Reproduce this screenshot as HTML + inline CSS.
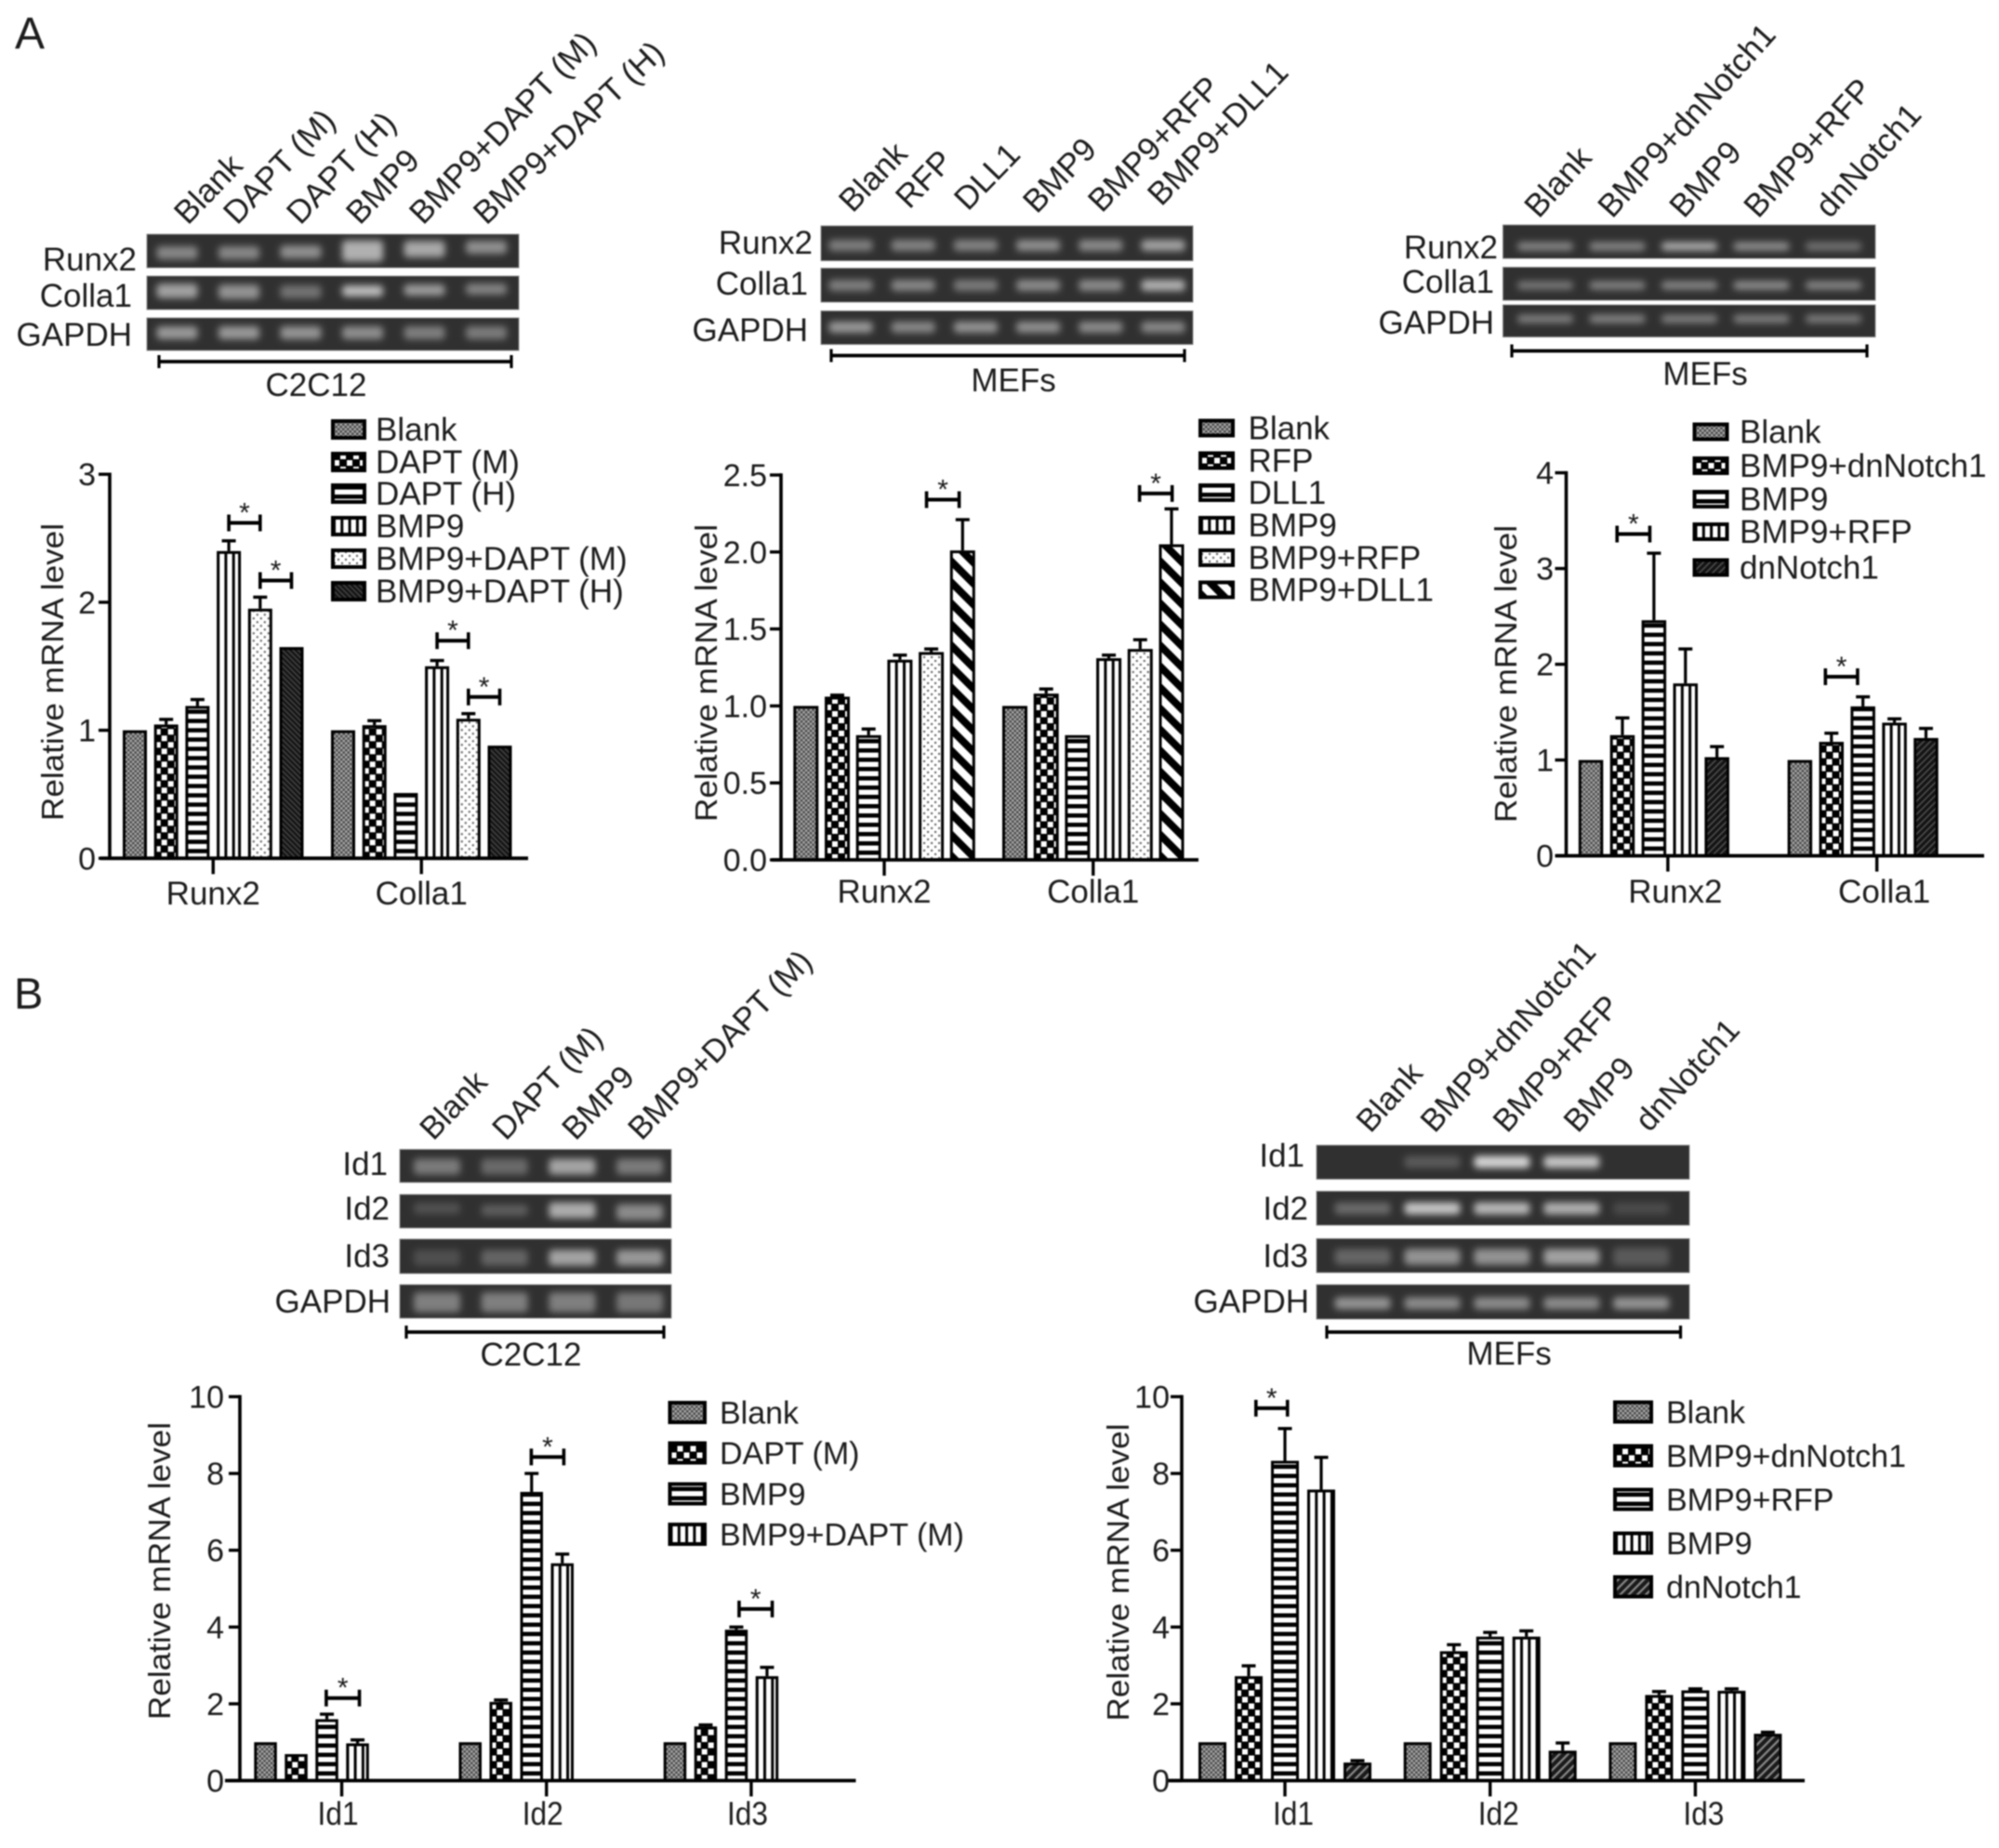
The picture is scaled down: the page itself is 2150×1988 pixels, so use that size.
<!DOCTYPE html>
<html lang="en">
<head>
<meta charset="utf-8">
<title>BMP9 and Notch signalling RT-PCR and qPCR figure</title>
<style>
html,body{margin:0;padding:0;background:#fff;width:2150px;height:1988px;overflow:hidden}
#figure{display:block;filter:blur(0.7px)}
text{font-family:"Liberation Sans",sans-serif;fill:#1c1c1c}
</style>
</head>
<body>
<svg id="figure" xmlns="http://www.w3.org/2000/svg" width="2150" height="1988" viewBox="0 0 2150 1988">
<defs id="defs">
  <filter id="gelBlur" x="-40%" y="-150%" width="180%" height="400%"><feGaussianBlur stdDeviation="3.6"/></filter>
  <pattern id="p-blank" patternUnits="userSpaceOnUse" width="5" height="5">
    <rect width="5" height="5" fill="#4a4a4a"/><rect width="2.5" height="2.5" fill="#a8a8a8"/><rect x="2.5" y="2.5" width="2.5" height="2.5" fill="#a8a8a8"/>
  </pattern>
  <pattern id="p-check" patternUnits="userSpaceOnUse" width="14" height="14">
    <rect width="14" height="14" fill="#000"/><rect x="1" y="1" width="6" height="6" fill="#fff"/><rect x="8" y="8" width="6" height="6" fill="#fff"/>
  </pattern>
  <pattern id="p-h" patternUnits="userSpaceOnUse" width="10" height="10">
    <rect width="10" height="10" fill="#fff"/><rect width="10" height="4.6" fill="#000"/>
  </pattern>
  <pattern id="p-v" patternUnits="userSpaceOnUse" width="8.3" height="10">
    <rect width="8.3" height="10" fill="#fff"/><rect width="3" height="10" fill="#000"/>
  </pattern>
  <pattern id="p-dots" patternUnits="userSpaceOnUse" width="8" height="8">
    <rect width="8" height="8" fill="#fff"/><circle cx="2" cy="2" r="1.2" fill="#666"/><circle cx="6" cy="6" r="1.2" fill="#666"/>
  </pattern>
  <pattern id="p-dark-back" patternUnits="userSpaceOnUse" width="4" height="4" data-rot="-45">
    <rect width="4" height="4" fill="#141414"/><rect width="1.3" height="4" fill="#4a4a4a"/>
  </pattern>
  <pattern id="p-dark-fwd" patternUnits="userSpaceOnUse" width="5" height="5" data-rot="45">
    <rect width="5" height="5" fill="#141414"/><rect width="1.4" height="5" fill="#555"/>
  </pattern>
  <pattern id="p-wide-back" patternUnits="userSpaceOnUse" width="16" height="16" data-rot="-45">
    <rect width="16" height="16" fill="#fff"/><rect width="8" height="16" fill="#000"/>
  </pattern>
  <pattern id="p-grey-fwd" patternUnits="userSpaceOnUse" width="6.5" height="6.5" data-rot="45">
    <rect width="6.5" height="6.5" fill="#1a1a1a"/><rect width="2.2" height="6.5" fill="#8a8a8a"/>
  </pattern>
</defs>
<g id="root"></g>
</svg>
<script>
// ---------- chart data ----------
const a1Categories = ['Runx2', 'Colla1'];
const a1Series = ['Blank', 'DAPT (M)', 'DAPT (H)', 'BMP9', 'BMP9+DAPT (M)', 'BMP9+DAPT (H)'];
const a1Values = [[1, 1.045, 1.19, 2.4, 1.95, 1.65], [1, 1.04, 0.51, 1.5, 1.09, 0.88]];
const a1Errors = [[null, 1.085, 1.24, 2.48, 2.04, null], [null, 1.075, null, 1.545, 1.13, null]];
const a1Ticks = ['0', '1', '2', '3'];
const a1TickValues = [0, 1, 2, 3];
const a1Sig = [[0, 3, 4, 2.62], [0, 4, 5, 2.17], [1, 3, 4, 1.70], [1, 4, 5, 1.26]];

const a2Categories = ['Runx2', 'Colla1'];
const a2Series = ['Blank', 'RFP', 'DLL1', 'BMP9', 'BMP9+RFP', 'BMP9+DLL1'];
const a2Values = [[1, 1.06, 0.81, 1.3, 1.35, 2.01], [1, 1.08, 0.81, 1.31, 1.37, 2.05]];
const a2Errors = [[null, 1.07, 0.85, 1.33, 1.37, 2.21], [null, 1.11, null, 1.33, 1.43, 2.28]];
const a2Ticks = ['0.0', '0.5', '1.0', '1.5', '2.0', '2.5'];
const a2TickValues = [0, 0.5, 1, 1.5, 2, 2.5];
const a2Sig = [[0, 3.85, 4.89, 2.34], [1, 3.98, 5.02, 2.38]];

const a3Categories = ['Runx2', 'Colla1'];
const a3Series = ['Blank', 'BMP9+dnNotch1', 'BMP9', 'BMP9+RFP', 'dnNotch1'];
const a3Values = [[1, 1.26, 2.46, 1.8, 1.03], [1, 1.19, 1.56, 1.39, 1.23]];
const a3Errors = [[null, 1.44, 3.16, 2.16, 1.14], [null, 1.28, 1.66, 1.43, 1.33]];
const a3Ticks = ['0', '1', '2', '3', '4'];
const a3TickValues = [0, 1, 2, 3, 4];
const a3Sig = [[0, 0.83, 1.87, 3.36], [1, 0.81, 1.83, 1.87]];

const b1Categories = ['Id1', 'Id2', 'Id3'];
const b1Series = ['Blank', 'DAPT (M)', 'BMP9', 'BMP9+DAPT (M)'];
const b1Values = [[1, 0.69, 1.6, 0.97], [1, 2.05, 7.52, 5.66], [1, 1.41, 3.93, 2.72]];
const b1Errors = [[null, null, 1.73, 1.06], [null, 2.1, 8.0, 5.9], [null, 1.45, 4.0, 2.95]];
const b1Ticks = ['0', '2', '4', '6', '8', '10'];
const b1TickValues = [0, 2, 4, 6, 8, 10];
const b1Sig = [[0, 1.98, 3.06, 2.15], [1, 1.99, 3.05, 8.43], [2, 2.09, 3.17, 4.47]];

const b2Categories = ['Id1', 'Id2', 'Id3'];
const b2Series = ['Blank', 'BMP9+dnNotch1', 'BMP9+RFP', 'BMP9', 'dnNotch1'];
const b2Values = [[1, 2.72, 8.33, 7.58, 0.47], [1, 3.37, 3.75, 3.75, 0.78], [1, 2.23, 2.35, 2.34, 1.22]];
const b2Errors = [[null, 2.99, 9.17, 8.42, 0.52], [null, 3.54, 3.86, 3.9, 0.98], [null, 2.32, 2.39, 2.39, 1.26]];
const b2Ticks = ['0', '2', '4', '6', '8', '10'];
const b2TickValues = [0, 2, 4, 6, 8, 10];
const b2Sig = [[0, 1.2, 2.07, 9.7]];

// ---------- helpers ----------
const NS = 'http://www.w3.org/2000/svg';
const root = document.getElementById('root');
const defs = document.getElementById('defs');
let patternCount = 0;

function mk(tag, parent, attrs, name) {
  const el = document.createElementNS(NS, tag);
  for (const k in attrs) el.setAttribute(k, attrs[k]);
  
  
  parent.appendChild(el);
  return el;
}
function txt(parent, str, x, y, o) {
  o = o || {};
  const a = {
    transform: 'translate(' + x + ',' + y + ')' + (o.rot ? ' rotate(' + o.rot + ')' : ''),
    'font-size': o.size || 35,
    'text-anchor': o.anchor || 'start'
  };
  if (o.len) { a.textLength = o.len; a.lengthAdjust = 'spacingAndGlyphs'; }
  const t = mk('text', parent, a, o.name || 'label');
  t.textContent = str;
  return t;
}
function hatch(base, x, y) {
  const src = document.getElementById(base);
  const p = src.cloneNode(true);
  const id = base + '-' + (patternCount++);
  p.setAttribute('id', id);
  const rot = src.getAttribute('data-rot');
  p.setAttribute('patternTransform', 'translate(' + x + ',' + y + ')' + (rot ? ' rotate(' + rot + ')' : ''));
  defs.appendChild(p);
  return 'url(#' + id + ')';
}
function slug(s) { return s.toLowerCase().replace(/[^a-z0-9]+/g, '-').replace(/^-|-$/g, ''); }

// ---------- bar chart ----------
function barChart(c, categories, series, values, errors, ticks, tickValues, sig) {
  const g = mk('g', root, {}, c.name);
  const yScale = v => c.y0 - v * c.unit;
  const xGroup = i => c.x0 + i * c.groupStep;
  const xBar = (i, s) => xGroup(i) + s * c.step;

  // bars
  values.forEach((vals, i) => {
    vals.forEach((v, s) => {
      const x = xBar(i, s), top = yScale(v);
      const bar = mk('rect', g, {
        x: x + 1.5, y: top + 1.5, width: c.barW - 3, height: c.y0 - top - 1.5,
        fill: hatch(c.fills[s], x, c.y0), stroke: '#000', 'stroke-width': 3
      }, 'bar-' + slug(categories[i]) + '-' + slug(series[s]));
      const e = errors[i][s];
      if (e !== null) {
        const cx = x + c.barW / 2, ey = yScale(e);
        mk('line', g, { x1: cx, x2: cx, y1: top, y2: ey, stroke: '#000', 'stroke-width': 3.2 }, 'error-bar-' + slug(categories[i]) + '-' + slug(series[s]));
        mk('line', g, { x1: cx - 7.5, x2: cx + 7.5, y1: ey, y2: ey, stroke: '#000', 'stroke-width': 3.4 }, 'error-cap-' + slug(categories[i]) + '-' + slug(series[s]));
      }
    });
  });

  // axes
  mk('line', g, { x1: c.axisX, x2: c.axisX, y1: c.y0, y2: yScale(tickValues[tickValues.length - 1]) - 1.7, stroke: '#000', 'stroke-width': 3.6 }, 'y-axis');
  mk('line', g, { x1: c.axisL, x2: c.axisR, y1: c.y0, y2: c.y0, stroke: '#000', 'stroke-width': 3.8 }, 'x-axis');
  tickValues.forEach((t, i) => {
    const y = yScale(t);
    mk('line', g, { x1: c.axisX - 12, x2: c.axisX, y1: y, y2: y, stroke: '#000', 'stroke-width': 3.4 }, 'y-tick-' + slug(ticks[i]));
    txt(g, ticks[i], c.tickRight, y + 12, { anchor: 'end', size: 34, name: 'y-tick-label-' + slug(ticks[i]) });
  });
  categories.forEach((cat, i) => {
    const cx = xGroup(i) + (c.step * (series.length - 1) + c.barW) / 2 + (c.tickDx || 0);
    mk('line', g, { x1: cx, x2: cx, y1: c.y0, y2: c.y0 + 17, stroke: '#000', 'stroke-width': 3.4 }, 'x-tick-' + slug(cat));
    txt(g, cat, cx + c.labelDx, c.catBase, { anchor: 'middle', size: 35, len: c.catLen ? c.catLen : 0, name: 'x-label-' + slug(cat) });
  });
  txt(g, 'Relative mRNA level', c.titleX, c.titleY, { rot: -90, anchor: 'middle', size: 33, len: 320, name: 'y-axis-title' });

  // significance brackets
  sig.forEach((b, k) => {
    const x1 = xBar(b[0], b[1]) + c.barW / 2, x2 = xBar(b[0], b[2]) + c.barW / 2, y = yScale(b[3]);
    mk('line', g, { x1: x1, x2: x2, y1: y, y2: y, stroke: '#000', 'stroke-width': 4 }, 'significance-bracket-' + k);
    mk('line', g, { x1: x1, x2: x1, y1: y - 9, y2: y + 9, stroke: '#000', 'stroke-width': 3.6 }, 'significance-cap-left-' + k);
    mk('line', g, { x1: x2, x2: x2, y1: y - 9, y2: y + 9, stroke: '#000', 'stroke-width': 3.6 }, 'significance-cap-right-' + k);
    txt(g, '*', (x1 + x2) / 2, y - 1, { anchor: 'middle', size: 30, name: 'significance-star-' + k });
  });

  // legend
  const lg = mk('g', g, {}, 'legend');
  series.forEach((s, i) => {
    const y = c.legendY[i];
    const e = mk('g', lg, {}, 'legend-entry-' + slug(s));
    mk('rect', e, {
      x: c.legendX + 2, y: y - c.swH / 2 + 2, width: c.swW - 4, height: c.swH - 4,
      fill: hatch(c.fills[i], c.legendX + 2, y + c.swH / 2), stroke: '#000', 'stroke-width': 4
    }, 'legend-swatch-' + slug(s));
    txt(e, s, c.legendText, y + 12, { size: c.legendSize, name: 'legend-label-' + slug(s) });
  });
}

// ---------- gel strips ----------
function gel(c) {
  const g = mk('g', root, {}, c.name);
  c.rows.forEach(r => {
    const h = r.bot - r.top;
    mk('rect', g, { x: c.x, y: r.top, width: c.w, height: h, fill: '#303030', stroke: '#8a8a8a', 'stroke-width': 1 }, 'gel-' + slug(r.label));
    const bg = mk('g', g, { filter: 'url(#gelBlur)' }, 'gel-bands-' + slug(r.label));
    r.vals.forEach((v, i) => {
      if (v <= 0) return;
      const cx = c.laneX + i * c.laneStep;
      const off = r.off ? r.off[i] : 0;
      const bh = c.bandH * (r.hs ? r.hs[i] : 1);
      mk('rect', bg, { x: cx - c.bandW / 2, y: r.cy + off - bh / 2, width: c.bandW, height: bh, rx: 4, fill: '#fff', 'fill-opacity': v }, 'gel-band-' + slug(r.label) + '-' + i);
    });
    txt(g, r.label, r.tx, r.ty, { anchor: 'end', size: 35, name: 'gel-row-label-' + slug(r.label) });
  });
  c.heads.forEach(h => {
    txt(g, h[0], h[1], h[2], { rot: h[3] || c.rot, size: c.headSize, name: 'lane-label-' + slug(h[0]) });
  });
  const b = c.bracket;
  mk('line', g, { x1: b.x1, x2: b.x2, y1: b.y, y2: b.y, stroke: '#000', 'stroke-width': 3.8 }, 'cell-line-bracket');
  mk('line', g, { x1: b.x1, x2: b.x1, y1: b.y - 7, y2: b.y + 7, stroke: '#000', 'stroke-width': 3.2 }, 'cell-line-bracket-left');
  mk('line', g, { x1: b.x2, x2: b.x2, y1: b.y - 7, y2: b.y + 7, stroke: '#000', 'stroke-width': 3.2 }, 'cell-line-bracket-right');
  txt(g, b.label, b.lx, b.ly, { anchor: 'middle', size: 35, name: 'cell-line-label' });
}

// ---------- panel letters ----------
txt(root, 'A', 16, 52, { size: 48, name: 'panel-label-a' });
txt(root, 'B', 15, 1085, { size: 47, name: 'panel-label-b' });

// ---------- gels ----------
gel({ name: 'gel-a-c2c12', x: 158, w: 400, laneX: 190.5, laneStep: 66.5, bandW: 44, bandH: 14, rot: -46, headSize: 35,
  rows: [
    { label: 'Runx2', top: 252, bot: 288, cy: 271, tx: 147, ty: 291, vals: [.42, .42, .46, .62, .58, .46], off: [1, 1, 0, -1, -3, -5], hs: [1, 1, 1, 1.6, 1.25, 1] },
    { label: 'Colla1', top: 297, bot: 333, cy: 313, tx: 142, ty: 330, vals: [.55, .48, .32, .68, .52, .4], off: [0, 1, 1, 0, -1, -2], hs: [1.1, 1.1, 1, .85, .85, .85] },
    { label: 'GAPDH', top: 342, bot: 377, cy: 358, tx: 142, ty: 372, vals: [.5, .5, .48, .45, .38, .36] }
  ],
  heads: [['Blank', 202, 243], ['DAPT (M)', 255, 243], ['DAPT (H)', 323, 243], ['BMP9', 387, 243], ['BMP9+DAPT (M)', 455, 243], ['BMP9+DAPT (H)', 523, 243, -43.5]],
  bracket: { x1: 171, x2: 550, y: 389, label: 'C2C12', lx: 340, ly: 426 } });

gel({ name: 'gel-a-mefs-dll1', x: 883, w: 400, laneX: 915, laneStep: 67.2, bandW: 47, bandH: 12, rot: -46, headSize: 35,
  rows: [
    { label: 'Runx2', top: 243, bot: 280.5, cy: 264, tx: 874, ty: 273, vals: [.38, .4, .4, .46, .44, .55] },
    { label: 'Colla1', top: 288.5, bot: 325, cy: 307, tx: 869, ty: 317, vals: [.38, .42, .36, .44, .44, .62] },
    { label: 'GAPDH', top: 334.5, bot: 370.5, cy: 352, tx: 869, ty: 367, vals: [.5, .42, .48, .46, .44, .42] }
  ],
  heads: [['Blank', 917, 230], ['RFP', 978, 226], ['DLL1', 1041, 228], ['BMP9', 1115, 231], ['BMP9+RFP', 1185, 230], ['BMP9+DLL1', 1249, 223]],
  bracket: { x1: 894, x2: 1274, y: 382.5, label: 'MEFs', lx: 1090, ly: 421 } });

gel({ name: 'gel-a-mefs-dnnotch', x: 1616.5, w: 400.5, laneX: 1662, laneStep: 77.5, bandW: 60, bandH: 9, rot: -48, headSize: 35,
  rows: [
    { label: 'Runx2', top: 242, bot: 278, cy: 265, tx: 1611, ty: 278, vals: [.42, .42, .6, .46, .32] },
    { label: 'Colla1', top: 287.5, bot: 323, cy: 307, tx: 1607, ty: 315, vals: [.35, .4, .42, .46, .42] },
    { label: 'GAPDH', top: 328, bot: 362.5, cy: 343, tx: 1607, ty: 359, vals: [.38, .4, .38, .38, .36] }
  ],
  heads: [['Blank', 1655, 236], ['BMP9+dnNotch1', 1734, 236], ['BMP9', 1811, 236], ['BMP9+RFP', 1891, 236], ['dnNotch1', 1968, 236]],
  bracket: { x1: 1626, x2: 2008, y: 377.5, label: 'MEFs', lx: 1834, ly: 414 } });

gel({ name: 'gel-b-c2c12', x: 430, w: 292, laneX: 470, laneStep: 72.7, bandW: 50, bandH: 17, rot: -46, headSize: 34.5,
  rows: [
    { label: 'Id1', top: 1236.5, bot: 1272, cy: 1255, tx: 417, ty: 1264, vals: [.36, .28, .56, .36] },
    { label: 'Id2', top: 1285, bot: 1321, cy: 1302, tx: 419, ty: 1312, vals: [.16, .22, .6, .44], off: [-2, 0, 0, 2], hs: [.7, .7, 1, 1] },
    { label: 'Id3', top: 1333, bot: 1370, cy: 1353, tx: 419, ty: 1363, vals: [.15, .25, .56, .5] },
    { label: 'GAPDH', top: 1382, bot: 1418, cy: 1401, tx: 420, ty: 1412, vals: [.38, .38, .38, .34], hs: [1.25, 1.25, 1.25, 1.25] }
  ],
  heads: [['Blank', 466, 1228], ['DAPT (M)', 544, 1228], ['BMP9', 619, 1228], ['BMP9+DAPT (M)', 690, 1228]],
  bracket: { x1: 437, x2: 714, y: 1433, label: 'C2C12', lx: 571, ly: 1469 } });

gel({ name: 'gel-b-mefs', x: 1416, w: 401, laneX: 1465.6, laneStep: 74.9, bandW: 60, bandH: 13, rot: -48, headSize: 34.5,
  rows: [
    { label: 'Id1', top: 1232, bot: 1268.5, cy: 1250, tx: 1403, ty: 1255, vals: [0, .2, .8, .72, 0] },
    { label: 'Id2', top: 1281.5, bot: 1318, cy: 1300, tx: 1407, ty: 1312, vals: [.28, .72, .66, .62, .13] },
    { label: 'Id3', top: 1332.5, bot: 1369, cy: 1352, tx: 1407, ty: 1363, vals: [.26, .48, .48, .55, .2], hs: [1.3, 1.3, 1.3, 1.3, 1.5] },
    { label: 'GAPDH', top: 1382, bot: 1419, cy: 1402, tx: 1408, ty: 1412, vals: [.48, .44, .44, .44, .48] }
  ],
  heads: [['Blank', 1474, 1220], ['BMP9+dnNotch1', 1543, 1220], ['BMP9+RFP', 1621, 1220], ['BMP9', 1697, 1220], ['dnNotch1', 1774, 1219]],
  bracket: { x1: 1427, x2: 1807.5, y: 1433, label: 'MEFs', lx: 1623, ly: 1468 } });

// ---------- charts ----------
barChart({ name: 'chart-a-c2c12', x0: 132, groupStep: 224, step: 33.7, barW: 26, y0: 923.3, unit: 137.7,
  axisX: 118, axisL: 108, axisR: 568, tickRight: 103, labelDx: 0, catBase: 973,
  titleX: 68, titleY: 723,
  fills: ['p-blank', 'p-check', 'p-h', 'p-v', 'p-dots', 'p-dark-back'],
  legendX: 356, legendText: 404, legendSize: 35, swW: 38, swH: 22, legendY: [462, 497, 531, 566, 601, 636]
}, a1Categories, a1Series, a1Values, a1Errors, a1Ticks, a1TickValues, a1Sig);

barChart({ name: 'chart-a-mefs-dll1', x0: 853.3, groupStep: 224.7, step: 33.7, barW: 27, y0: 925, unit: 165.6,
  axisX: 840, axisL: 830, axisR: 1289, tickRight: 825, labelDx: 0, catBase: 971,
  titleX: 771, titleY: 724,
  fills: ['p-blank', 'p-check', 'p-h', 'p-v', 'p-dots', 'p-wide-back'],
  legendX: 1289, legendText: 1342.5, legendSize: 35, swW: 39, swH: 20, legendY: [460.5, 495.5, 530, 565, 600, 634.5]
}, a2Categories, a2Series, a2Values, a2Errors, a2Ticks, a2TickValues, a2Sig);

barChart({ name: 'chart-a-mefs-dnnotch', x0: 1697.8, groupStep: 224.8, step: 33.9, barW: 26.5, y0: 920.6, unit: 103,
  axisX: 1684.5, axisL: 1673, axisR: 2134, tickRight: 1671, tickDx: 15, labelDx: 8, catBase: 971,
  titleX: 1631, titleY: 725,
  fills: ['p-blank', 'p-check', 'p-h', 'p-v', 'p-dark-fwd'],
  legendX: 1820.5, legendText: 1871, legendSize: 35, swW: 39, swH: 20, legendY: [464.5, 501, 537, 572, 610.5]
}, a3Categories, a3Series, a3Values, a3Errors, a3Ticks, a3TickValues, a3Sig);

barChart({ name: 'chart-b-c2c12', x0: 273.3, groupStep: 220.2, step: 33, barW: 24.5, y0: 1915.5, unit: 41.3,
  axisX: 258, axisL: 242, axisR: 920.5, tickRight: 241, tickDx: 32.5, labelDx: -4, catBase: 1963, catLen: 44,
  titleX: 183, titleY: 1690,
  fills: ['p-blank', 'p-check', 'p-h', 'p-v'],
  legendX: 718.5, legendText: 774, legendSize: 34, swW: 41.5, swH: 25, legendY: [1519.5, 1563, 1607, 1650.5]
}, b1Categories, b1Series, b1Values, b1Errors, b1Ticks, b1TickValues, b1Sig);

barChart({ name: 'chart-b-mefs', x0: 1289, groupStep: 220.7, step: 39, barW: 30, y0: 1915.5, unit: 41.3,
  axisX: 1271, axisL: 1255, axisR: 1941, tickRight: 1258, labelDx: 9, catBase: 1963, catLen: 44,
  titleX: 1214, titleY: 1691.5,
  fills: ['p-blank', 'p-check', 'p-h', 'p-v', 'p-grey-fwd'],
  legendX: 1735, legendText: 1792, legendSize: 34, swW: 43, swH: 25, legendY: [1519, 1566, 1613, 1660, 1707]
}, b2Categories, b2Series, b2Values, b2Errors, b2Ticks, b2TickValues, b2Sig);
</script>
</body>
</html>
